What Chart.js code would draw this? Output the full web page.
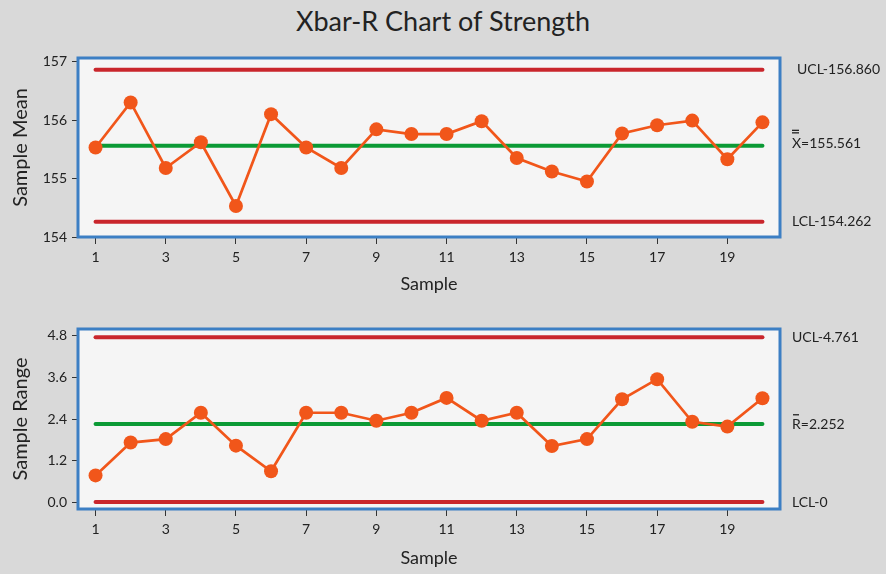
<!DOCTYPE html>
<html>
<head>
<meta charset="utf-8">
<script src="https://cdn.jsdelivr.net/npm/chart.js@4.4.1/dist/chart.umd.min.js"></script>
<style>
   body{ margin:0; background:#d9d9d9; }
   #wrap{ position:relative; width:886px; height:574px; background:#d9d9d9; overflow:hidden; }
   #title{ position:absolute; left:0; top:4px; width:886px; text-align:center;
           font:27px Lato, sans-serif; color:#222; }
   canvas{ position:absolute; left:0; }
   #meanChart{ top:0; }
   #rangeChart{ top:300px; }
</style>
</head>
<body>
<div id="wrap">
   <div id="title">Xbar-R Chart of Strength</div>
   <canvas id="meanChart" width="886" height="300"></canvas>
   <canvas id="rangeChart" width="886" height="274"></canvas>
</div>
<script>

/* subgroup data */
const samples = [1,2,3,4,5,6,7,8,9,10,11,12,13,14,15,16,17,18,19,20];

const sampleMeans = [155.53,156.30,155.18,155.62,154.53,156.10,155.53,155.18,155.84,155.76,
                     155.76,155.98,155.35,155.12,154.95,155.77,155.91,155.99,155.33,155.96];

const sampleRanges = [0.77,1.72,1.82,2.58,1.63,0.89,2.58,2.58,2.35,2.58,
                      3.01,2.35,2.58,1.62,1.82,2.97,3.55,2.32,2.18,3.00];

/* control limits */
const meanLimits = [156.860, 155.561, 154.262];   // UCL, centre, LCL
const rangeLimits = [4.761, 2.252, 0];

/* tick labels */
const sampleTicks = [1,3,5,7,9,11,13,15,17,19];
const meanTicks = [154,155,156,157];
const rangeTicks = [0,1.2,2.4,3.6,4.8];

const FONT = "Lato, sans-serif";
const RED = "#c9262c";
const GREEN = "#0b9a35";
const ORANGE = "#f1561a";
const BLUE = "#3c7fc4";

/* light panel + blue frame behind the data */
const panelFrame = {
   id: "panelFrame",
   beforeDatasetsDraw(chart){
      let a = chart.chartArea;
      let ctx = chart.ctx;
      ctx.save();
      ctx.fillStyle = "#f5f5f5";
      ctx.fillRect(a.left, a.top, a.right - a.left, a.bottom - a.top);
      ctx.strokeStyle = BLUE;
      ctx.lineWidth = 3;
      ctx.strokeRect(a.left, a.top, a.right - a.left, a.bottom - a.top);
      ctx.restore();
   }
};

/* UCL / centre / LCL text on the right */
const limitLabels = {
   id: "limitLabels",
   afterDraw(chart, args, opts){
      let ctx = chart.ctx;
      let y = chart.scales.y;
      ctx.save();
      ctx.font = "14px " + FONT;
      ctx.fillStyle = "#222";
      ctx.textBaseline = "middle";
      ctx.textAlign = "left";
      (opts.items || []).forEach(item => {
         let py = y.getPixelForValue(item.value) + (item.dy || 0);
         ctx.fillText(item.text, item.x, py);
         if(item.bar === "single"){
            ctx.fillRect(item.x + 1, py - 10, 6, 1.3);
         }
         if(item.bar === "double"){
            ctx.fillRect(item.x, py - 14, 7, 1.3);
            ctx.fillRect(item.x, py - 11.5, 7, 1.3);
         }
      });
      ctx.restore();
   }
};

function limitLine(value, color){
   return {
      data: [{x: samples[0], y: value}, {x: samples[samples.length-1], y: value}],
      borderColor: color,
      borderWidth: 4,
      pointRadius: 0,
      borderCapStyle: "round"
   };
}

function makeChart(id, values, limits, yTicks, yMin, yMax, yTitle, fmt, area, labels){

   let ctx = document.getElementById(id).getContext("2d");

   return new Chart(ctx, {

      type: "line",

      data: {
         datasets: [
            {
               data: values.map((v,i) => ({x: samples[i], y: v})),
               borderColor: ORANGE,
               backgroundColor: ORANGE,
               borderWidth: 2.7,
               pointRadius: 7,
               pointBorderWidth: 0,
               pointBackgroundColor: ORANGE
            },
            limitLine(limits[0], RED),
            limitLine(limits[1], GREEN),
            limitLine(limits[2], RED)
         ]
      },

      options: {
         responsive: false,
         animation: false,
         devicePixelRatio: 1,
         layout: {
            padding: {top: area.top, right: 106, bottom: 0, left: 0}
         },
         plugins: {
            legend: {display: false},
            tooltip: {enabled: false},
            limitLabels: {items: labels}
         },
         scales: {
            x: {
               type: "linear",
               min: 0.5,
               max: 20.5,
               afterBuildTicks: s => { s.ticks = sampleTicks.map(v => ({value: v})); },
               afterFit: s => { s.height = area.xHeight; },
               grid: {drawOnChartArea: false, tickLength: 7, color: "#333", lineWidth: 1},
               border: {display: false},
               ticks: {color: "#222", font: {family: FONT, size: 14}, padding: 5, maxRotation: 0},
               title: {display: true, text: "Sample", color: "#222",
                       font: {family: FONT, size: 18}, padding: {top: 4, bottom: 5}}
            },
            y: {
               min: yMin,
               max: yMax,
               afterBuildTicks: s => { s.ticks = yTicks.map(v => ({value: v})); },
               afterFit: s => { s.width = 78; },
               grid: {drawOnChartArea: false, tickLength: 6, color: "#333", lineWidth: 1},
               border: {display: false},
               ticks: {color: "#222", font: {family: FONT, size: 14}, padding: 5,
                       callback: v => fmt(v)},
               title: {display: true, text: yTitle, color: "#222",
                       font: {family: FONT, size: 20}, padding: {top: 9, bottom: 4}}
            }
         }
      },

      plugins: [panelFrame, limitLabels]

   });

}

makeChart("meanChart", sampleMeans, meanLimits, meanTicks, 154, 157.06, "Sample Mean",
   v => String(v),
   {top: 58, xHeight: 63},
   [
      {text: "UCL-" + meanLimits[0].toFixed(3), value: meanLimits[0], x: 797},
      {text: "X=" + meanLimits[1].toFixed(3), value: meanLimits[1], x: 792, dy: -2, bar: "double"},
      {text: "LCL-" + meanLimits[2].toFixed(3), value: meanLimits[2], x: 792}
   ]);

makeChart("rangeChart", sampleRanges, rangeLimits, rangeTicks, -0.2, 5.0, "Sample Range",
   v => v.toFixed(1),
   {top: 29, xHeight: 65},
   [
      {text: "UCL-" + rangeLimits[0].toFixed(3), value: rangeLimits[0], x: 792},
      {text: "R=" + rangeLimits[1].toFixed(3), value: rangeLimits[1], x: 792, bar: "single"},
      {text: "LCL-" + rangeLimits[2], value: rangeLimits[2], x: 792}
   ]);

</script>
</body>
</html>
